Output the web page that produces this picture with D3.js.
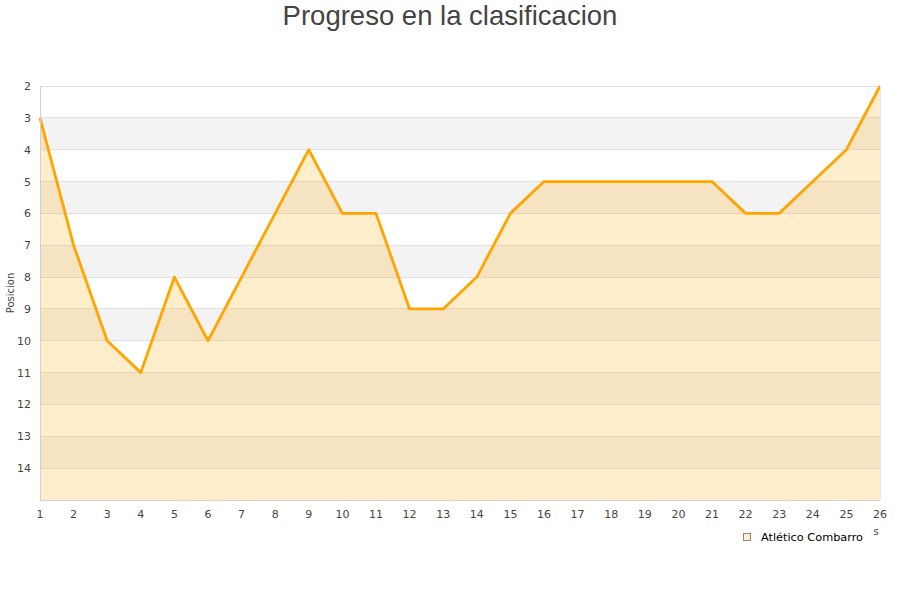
<!DOCTYPE html>
<html><head><meta charset="utf-8">
<script src="https://cdn.jsdelivr.net/npm/d3@7"></script>
<style>body{margin:0;background:#fff}svg{display:block}</style>
</head><body>
<svg id="c" width="900" height="600"></svg>
<script>
const jornadas = [1,2,3,4,5,6,7,8,9,10,11,12,13,14,15,16,17,18,19,20,21,22,23,24,25,26];
const posiciones = [3,7,10,11,8,10,8,6,4,6,6,9,9,8,6,5,5,5,5,5,5,6,6,5,4,2];
const yTicks = [2,3,4,5,6,7,8,9,10,11,12,13,14];
const serieNombre = "Atlético Combarro";
const titulo = "Progreso en la clasificacion";
const yLabel = "Posicion";

const svg = d3.select("#c");
const L=40,R=880,T=86,B=500;
const x = d3.scaleLinear().domain([1,26]).range([L,R]);
const y = d3.scaleLinear().domain([2,15]).range([T,B]);
const font = "DejaVu Sans, sans-serif";

const bands = d3.range(2,15);
svg.selectAll("rect.band").data(bands).join("rect")
  .attr("x",L).attr("width",R-L)
  .attr("y",d=>y(d)).attr("height",d=>y(d+1)-y(d))
  .attr("fill",d=>(d%2===1)?"#f3f3f3":"#ffffff");
svg.selectAll("line.grid").data(d3.range(2,16)).join("line")
  .attr("x1",L).attr("x2",R).attr("y1",d=>y(d)).attr("y2",d=>y(d))
  .attr("stroke","#e0e0e0").attr("stroke-width",1).attr("shape-rendering","crispEdges");

const area = d3.area().x((d,i)=>x(jornadas[i])).y0(y(15)).y1(d=>y(d));
svg.append("path").datum(posiciones).attr("d",area)
  .attr("fill","rgba(255,165,0,0.2)");
const line = d3.line().x((d,i)=>x(jornadas[i])).y(d=>y(d));
svg.append("path").datum(posiciones).attr("d",line)
  .attr("fill","none").attr("stroke","#ffa500").attr("stroke-width",2.8).attr("stroke-linejoin","round");

svg.append("line").attr("x1",L+0.5).attr("x2",L+0.5).attr("y1",T).attr("y2",B).attr("stroke","#d0d0d0");
svg.append("line").attr("x1",L).attr("x2",R).attr("y1",B+0.5).attr("y2",B+0.5).attr("stroke","#d0d0d0");
svg.append("line").attr("x1",R+0.5).attr("x2",R+0.5).attr("y1",T).attr("y2",B).attr("stroke","#e6e6e6");

svg.selectAll("text.yt").data(yTicks).join("text")
  .attr("x",31).attr("y",d=>y(d)+4).attr("text-anchor","end")
  .attr("font-family",font).attr("font-size",11).attr("fill","#444").text(d=>d);
svg.selectAll("text.xt").data(jornadas).join("text")
  .attr("x",d=>x(d)).attr("y",518).attr("text-anchor","middle")
  .attr("font-family",font).attr("font-size",11).attr("fill","#444").text(d=>d);

svg.append("text").attr("x",450).attr("y",25).attr("text-anchor","middle")
  .attr("font-family","Liberation Sans, Arial, sans-serif").attr("font-size",27.5).attr("fill","#444").text(titulo);
svg.append("text").attr("transform","translate(14,293) rotate(-90)").attr("text-anchor","middle")
  .attr("font-family",font).attr("font-size",10).attr("fill","#444").text(yLabel);
svg.append("text").attr("x",876).attr("y",535).attr("text-anchor","middle")
  .attr("font-family",font).attr("font-size",10).attr("fill","#444").text("s");

svg.append("rect").attr("x",743.5).attr("y",533.5).attr("width",7).attr("height",7)
  .attr("fill","#ffedcc").attr("stroke","#888");
svg.append("text").attr("x",761).attr("y",541).attr("font-family",font).attr("font-size",11.3)
  .attr("fill","#000").text(serieNombre);
</script>
</body></html>
